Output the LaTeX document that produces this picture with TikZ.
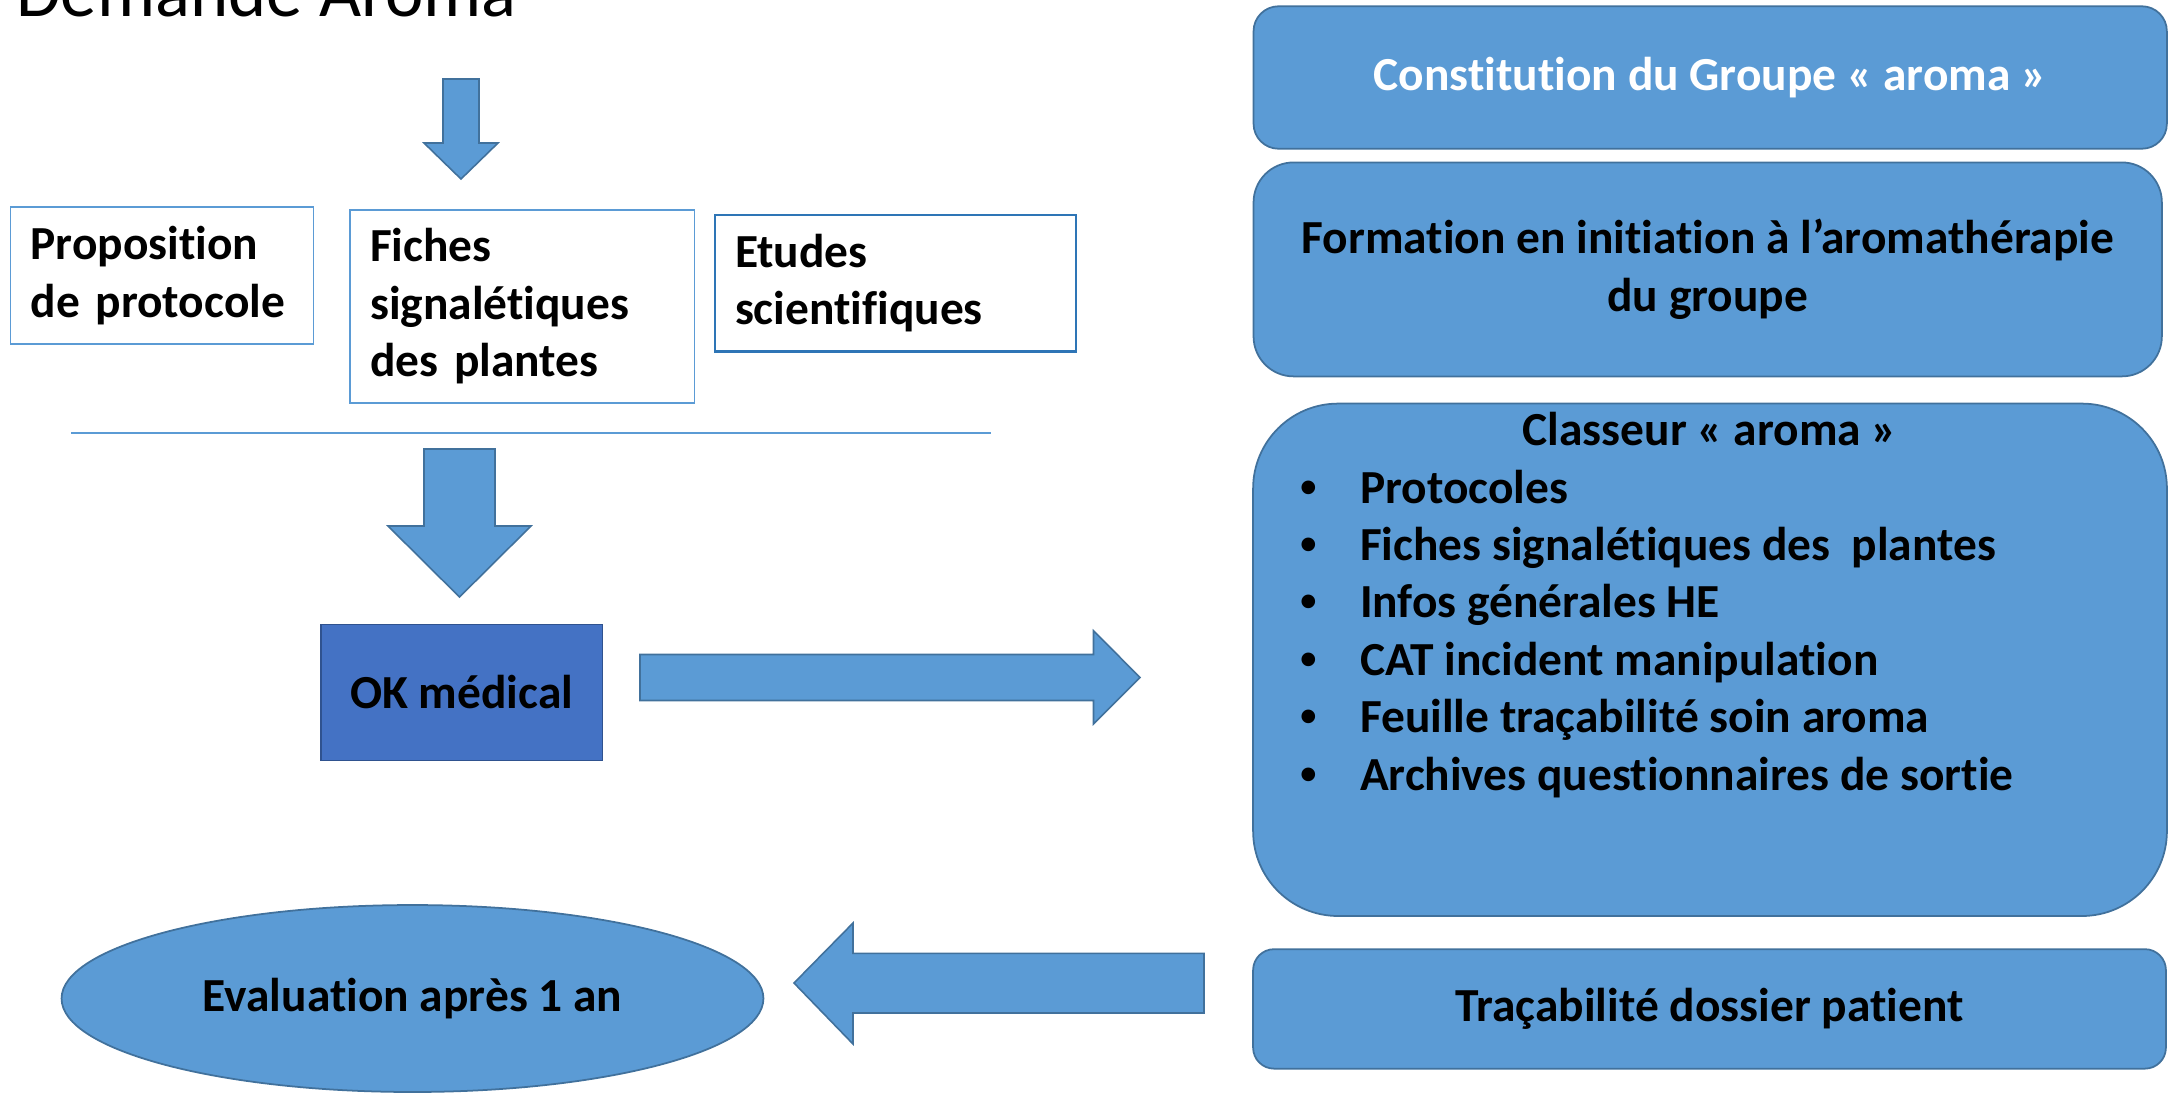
\documentclass[tikz,border=0pt]{standalone}
\usepackage{fontspec}
\setmainfont{Carlito}[Ligatures=NoCommon]
\newfontfamily\puceface{Liberation Sans}
\usetikzlibrary{shapes.geometric}

\definecolor{boxblue}{HTML}{5B9BD5}
\definecolor{boxedge}{HTML}{41719C}
\definecolor{okblue}{HTML}{4472C4}
\definecolor{okedge}{HTML}{2F528F}
\definecolor{darkline}{HTML}{2E75B6}

\newcommand{\puce}[1]{\hspace*{0.95cm}\makebox[1.19cm][l]{\puceface\textbullet}#1\par}

\begin{document}
\begin{tikzpicture}[
    x=0.02cm, y=-0.02cm,
    every node/.style={font=\fontsize{27}{32.7}\selectfont\bfseries},
    textbox/.style={
        rectangle,
        draw=boxblue,
        line width=0.8pt,
        align=left,
        inner xsep=0.4cm,
        inner ysep=0pt
    },
    bluebox/.style={
        rectangle,
        rounded corners=#1,
        fill=boxblue,
        draw=boxedge,
        line width=1pt,
        align=center,
        inner sep=0pt
    },
    blockarrow/.style={
        fill=boxblue,
        draw=boxedge,
        line width=0.9pt,
        line join=miter
    }
]
\useasboundingbox (0,0) rectangle (2169,1093);

% Title
\node[anchor=base west, font=\fontsize{41.4}{50}\selectfont] (titre) at (10,16) {Demande Aroma};

% Left column
\draw[blockarrow] (443,79) -- (479,79) -- (479,143) -- (498,143) -- (461,179)
    -- (424,143) -- (443,143) -- cycle;

\node[textbox, text width=5.26cm, minimum height=2.74cm] (proposition) at (162,275.5)
    {Proposition\\de protocole};
\node[textbox, text width=6.09cm, minimum height=3.86cm] (fiches) at (522.3,306.5)
    {Fiches\\signalétiques\\des plantes};
\node[textbox, draw=darkline, line width=1.3pt, text width=6.42cm, minimum height=2.73cm]
    (etudes) at (895.5,283.3) {Etudes\\scientifiques};

\draw[boxblue, line width=0.8pt] (71,433) -- (991,433);

\draw[blockarrow] (424,449) -- (495,449) -- (495,526) -- (531,526) -- (459.5,597)
    -- (388,526) -- (424,526) -- cycle;

\node[rectangle, fill=okblue, draw=okedge, line width=1pt, minimum width=5.64cm,
    minimum height=2.72cm] (okmed) at (461.6,692.5) {OK médical};

\draw[blockarrow] (640,654.5) -- (1093.5,654.5) -- (1093.5,630.7) -- (1140,677.5)
    -- (1093.5,724) -- (1093.5,700.5) -- (640,700.5) -- cycle;

\node[ellipse, fill=boxblue, draw=boxedge, line width=1pt, inner sep=0pt,
    minimum width=14.04cm, minimum height=3.74cm] (evaluation) at (412.5,998.5)
    {Evaluation après 1 an};

\draw[blockarrow] (1204,953.4) -- (853,953.4) -- (853,923) -- (794,983) -- (853,1044)
    -- (853,1013) -- (1204,1013) -- cycle;

% Right column
\node[bluebox=0.5cm, text=white, minimum width=18.27cm, minimum height=2.85cm]
    (groupe) at (1710.2,77.5) {Constitution du Groupe « aroma »};
\node[bluebox=0.8cm, minimum width=18.17cm, minimum height=4.28cm]
    (formation) at (1707.7,269.4) {Formation en initiation à l’aromathérapie\\du groupe};
\node[bluebox=1.7cm, anchor=north] (classeur) at (1710,402.7) {%
    \parbox[t][10.25cm][t]{18.28cm}{\centering\rule{0pt}{0.84cm}Classeur « aroma »\par
    \raggedright
    \puce{Protocoles}
    \puce{Fiches signalétiques des\ \ plantes}
    \puce{Infos générales HE}
    \puce{CAT incident manipulation}
    \puce{Feuille traçabilité soin aroma}
    \puce{Archives questionnaires de sortie}}};
\node[bluebox=0.42cm, minimum width=18.26cm, minimum height=2.39cm]
    (dossier) at (1709.5,1008.9) {Traçabilité dossier patient};

\end{tikzpicture}
\end{document}
